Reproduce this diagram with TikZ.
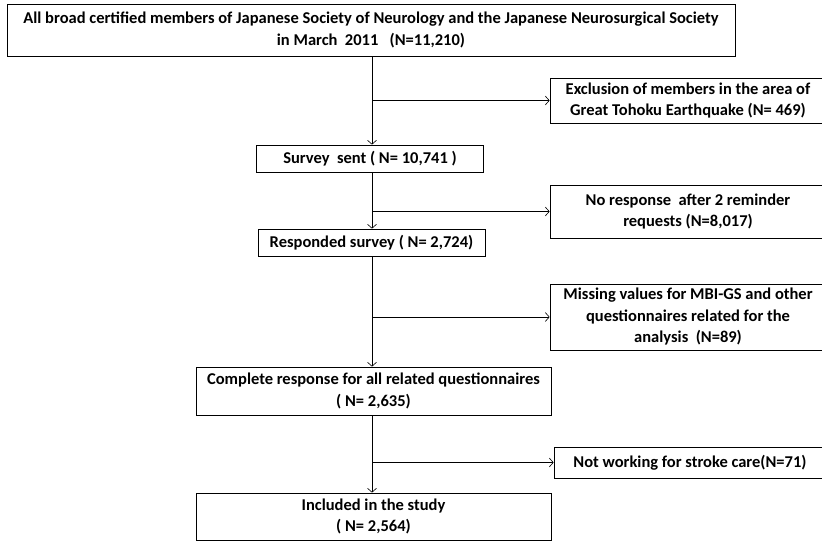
\documentclass[tikz,border=0pt]{standalone}
\usepackage{fontspec}
\setmainfont{Carlito}
\usetikzlibrary{arrows.meta}

\tikzset{
  box/.style={draw, line width=0.7pt, inner sep=1pt, align=center,
    font=\bfseries\fontsize{16.5}{21.5}\selectfont},
  flow/.style={-{Straight Barb[length=4pt,width=9pt]}, line width=0.6pt},
}

\begin{document}
\begin{tikzpicture}[x=1pt,y=-1pt]
   \useasboundingbox (0,0) rectangle (822,543);
   \clip (0,0) rectangle (822,543);
   \coordinate (spine) at (372,0);
   % main column
   \node[box, minimum width=728pt, minimum height=52pt] (all) at (371,30)
   {All broad certified members of Japanese Society of Neurology and the Japanese Neurosurgical Society\\
    in March\ \ 2011\ \ \ (N=11,210)};
   \node[box, minimum width=227pt, minimum height=27pt] (sent) at (370,158.5)
   {Survey\ \ sent ( N= 10,741 )};
   \node[box, minimum width=227pt, minimum height=27pt] (resp) at (371.5,242.5)
   {Responded survey ( N= 2,724)};
   \node[box, minimum width=355pt, minimum height=48pt] (compl) at (373.5,391)
   {Complete response for all related questionnaires\\ ( N= 2,635)};
   \node[box, minimum width=355pt, minimum height=47pt] (incl) at (373.5,516.5)
   {Included in the study\\ ( N= 2,564)};
   % exclusions, cut off at the right margin
   \node[box, minimum width=276pt, minimum height=45pt] (quake) at (688,100.5)
   {Exclusion of members in the area of\\ Great Tohoku Earthquake (N= 469)};
   \node[box, minimum width=276pt, minimum height=53pt] (noresp) at (688,211.5)
   {No response\ \ after 2 reminder\\ requests (N=8,017)};
   \node[box, minimum width=276pt, minimum height=66pt] (miss) at (688,317)
   {Missing values for MBI-GS and other\\ questionnaires related for the\\ analysis\ \ (N=89)};
   \node[box, minimum width=272pt, minimum height=31pt] (nowork) at (690,462.5)
   {Not working for stroke care(N=71)};
   % spine
   \draw[flow] (all.south -| spine) -- (sent.north -| spine);
   \draw[flow] (sent.south -| spine) -- (resp.north -| spine);
   \draw[flow] (resp.south -| spine) -- (compl.north -| spine);
   \draw[flow] (compl.south -| spine) -- (incl.north -| spine);
   % branches
   \coordinate (b1) at (spine |- quake);
   \coordinate (b2) at (spine |- noresp);
   \coordinate (b3) at (spine |- miss);
   \coordinate (b4) at (spine |- nowork);
   \draw[flow] (b1) -- (quake.west);
   \draw[flow] (b2) -- (noresp.west);
   \draw[flow] (b3) -- (miss.west);
   \draw[flow] (b4) -- (nowork.west);
\end{tikzpicture}
\end{document}
